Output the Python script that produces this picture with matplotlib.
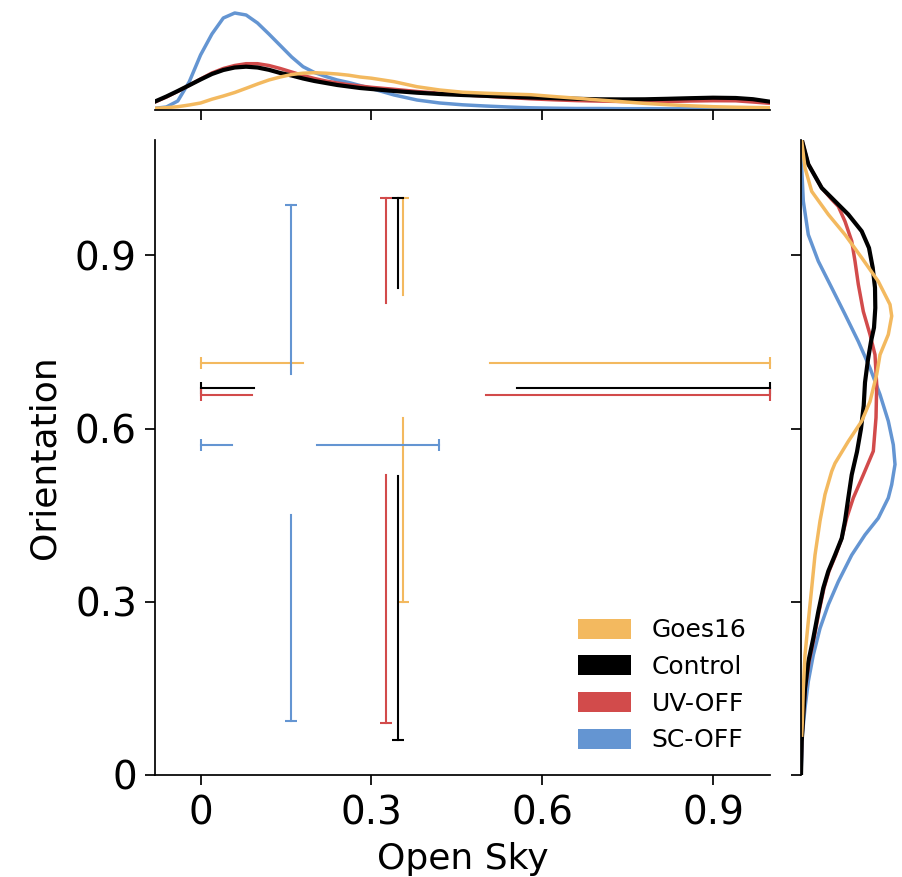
import matplotlib
matplotlib.use("Agg")
import matplotlib.pyplot as plt
from matplotlib.patches import Patch
import numpy as np

groups = ["Goes16", "Control", "UV-OFF", "SC-OFF"]
colors = ["#f3b95f", "#000000", "#d24b4b", "#6495d2"]

# open sky spread per group: min, lower quartile, upper quartile, max
sky_lo = [0.0, 0.0, 0.0, 0.0]
sky_q1 = [0.180, 0.093, 0.091, 0.056]
sky_q3 = [0.508, 0.555, 0.501, 0.204]
sky_hi = [1.0, 1.0, 1.0, 0.419]
sky_mid = [0.355, 0.347, 0.325, 0.159]

# orientation spread per group
ori_lo = [0.300, 0.061, 0.090, 0.094]
ori_q1 = [0.618, 0.518, 0.520, 0.451]
ori_q3 = [0.832, 0.843, 0.817, 0.694]
ori_hi = [1.0, 1.0, 1.0, 0.987]
ori_mid = [0.713, 0.670, 0.658, 0.571]

# marginal density of open sky (scaled units)
sky_grid = [-0.08, -0.06, -0.04, -0.02, 0.0, 0.02, 0.04, 0.06, 0.08, 0.10,
            0.12, 0.14, 0.16, 0.18, 0.20, 0.22, 0.24, 0.26, 0.28, 0.30,
            0.34, 0.38, 0.42, 0.46, 0.50, 0.54, 0.58, 0.62, 0.66, 0.70,
            0.74, 0.78, 0.82, 0.86, 0.90, 0.94, 0.97, 1.0]
sky_dens = {
    "Goes16": [1.7, 2.3, 3.3, 5, 7, 10.8, 14, 17.5, 21.7, 26,
               30, 33, 35.5, 36.8, 37.3, 36.8, 36, 34.8, 33, 31.8,
               28.3, 23.3, 20, 17.8, 16.8, 16, 15.3, 13.5, 11.8, 10,
               8.3, 6.6, 5.3, 4.2, 3.3, 2.8, 2.5, 2.3],
    "Control": [8.5, 13.5, 19, 24.7, 30.5, 36, 40, 42.5, 43.3, 42.5,
                40.2, 37, 34.5, 31.5, 29, 27, 25, 23.5, 22, 21,
                19, 17.3, 16, 15, 14.2, 13.3, 12.5, 11.9, 11.2, 10.7,
                10.6, 10.7, 11.2, 11.8, 12.3, 12, 10.8, 8.3],
    "UV-OFF": [8, 13, 18.7, 24.7, 31, 37, 41.5, 44.5, 46.3, 46.3,
               44.5, 41.5, 38, 34.5, 31.5, 29, 27, 25.3, 24, 22.7,
               20.7, 18.5, 16.8, 15.2, 13.8, 12.5, 11.2, 10.2, 9.4, 8.9,
               8.5, 8.3, 8.5, 9, 9.3, 9.2, 8, 6.7],
    "SC-OFF": [1.7, 3, 9, 28, 55, 76, 92, 97, 95, 87,
               76, 64.5, 53, 43.3, 37.5, 33.5, 30, 27.5, 24.5, 21.5,
               15, 10, 7, 5.2, 4, 3, 2.2, 1.8, 1.5, 1.5,
               1.3, 1.3, 1.2, 1.2, 1.2, 1.1, 1.1, 1.0],
}

# marginal density of orientation (scaled units)
ori_y = {
    "Goes16": [1.098, 1.052, 1.011, 0.971, 0.936, 0.896, 0.855, 0.815, 0.795,
               0.763, 0.728, 0.694, 0.647, 0.613, 0.578, 0.540, 0.526, 0.486,
               0.440, 0.381, 0.324, 0.266, 0.208, 0.150, 0.092, 0.069],
    "Control": [1.101, 1.058, 1.017, 0.994, 0.971, 0.942, 0.913, 0.879, 0.844,
                0.809, 0.775, 0.751, 0.720, 0.680, 0.640, 0.600, 0.560, 0.520,
                0.480, 0.440, 0.410, 0.381, 0.353, 0.324, 0.283, 0.237, 0.196,
                0.150, 0.104, 0.058, 0.0],
    "UV-OFF": [1.101, 1.058, 1.017, 0.997, 0.985, 0.959, 0.925, 0.890, 0.850,
               0.803, 0.763, 0.728, 0.676, 0.619, 0.561, 0.520, 0.480, 0.445,
               0.410, 0.381, 0.353, 0.324, 0.283, 0.237, 0.196, 0.150, 0.104,
               0.058, 0.0],
    "SC-OFF": [1.1, 1.052, 0.994, 0.936, 0.890, 0.844, 0.798, 0.751, 0.705,
               0.659, 0.613, 0.572, 0.538, 0.503, 0.480, 0.445, 0.416, 0.381,
               0.335, 0.295, 0.254, 0.208, 0.162, 0.116, 0.069, 0.035, 0.0],
}
ori_dens = {
    "Goes16": [0.7, 4, 10.7, 27.3, 44, 60.7, 77.3, 89, 90.7,
               87.3, 79, 75.7, 69, 60.7, 47.3, 34, 30.7, 24,
               19, 14, 10.7, 7.3, 4, 2.3, 1.3, 0.7],
    "Control": [0.7, 7.3, 20.7, 34, 47.3, 60.7, 68, 71.7, 74,
                74.3, 73, 70, 67, 64, 62.7, 60, 56, 50.7,
                47.3, 44, 40.7, 34, 27.3, 22.3, 17.3, 12.3, 7.3,
                4, 2.3, 0.7, 0],
    "UV-OFF": [0.7, 7.3, 20.7, 30.7, 37.3, 44, 50.7, 54, 57.3,
               62.3, 69, 74, 75.7, 75, 72.3, 62.3, 52.3, 45.7,
               40.7, 34.7, 28, 23, 18, 13, 8, 4.3, 2.3,
               0.7, 0],
    "SC-OFF": [0.3, 0.7, 2.3, 7.3, 17.3, 30.7, 44, 57.3, 69,
               79, 87.3, 92.3, 94, 90.7, 87.3, 77.3, 64, 50.7,
               37.3, 27.3, 19, 12.3, 7.3, 4, 1.3, 0.7, 0],
}

ticks = [0, 0.3, 0.6, 0.9]
tick_labels = ["0", "0.3", "0.6", "0.9"]

fig = plt.figure(figsize=(9.02, 8.77), dpi=100)
ax = fig.add_axes([0.17184, 0.11631, 0.68182, 0.72406])
ax_top = fig.add_axes([0.17184, 0.87457, 0.68182, 0.11688], sharex=ax)
ax_right = fig.add_axes([0.88803, 0.11631, 0.10976, 0.72406], sharey=ax)

lw = 1.5
for i, g in enumerate(groups):
    c = colors[i]
    # open sky range at the group's orientation centre, gap over the IQR
    ax.plot([sky_lo[i], sky_q1[i]], [ori_mid[i]] * 2, color=c, lw=lw, clip_on=False)
    ax.plot([sky_q3[i], sky_hi[i]], [ori_mid[i]] * 2, color=c, lw=lw, clip_on=False)
    ax.plot([sky_lo[i], sky_hi[i]], [ori_mid[i]] * 2, ls="none", marker="|",
            ms=8, mew=lw, color=c, clip_on=False)
    # orientation range at the group's open sky centre
    ax.plot([sky_mid[i]] * 2, [ori_lo[i], ori_q1[i]], color=c, lw=lw, clip_on=False)
    ax.plot([sky_mid[i]] * 2, [ori_q3[i], ori_hi[i]], color=c, lw=lw, clip_on=False)
    ax.plot([sky_mid[i]] * 2, [ori_lo[i], ori_hi[i]], ls="none", marker="_",
            ms=8, mew=lw, color=c, clip_on=False)

ax.set_xlim(-0.08, 1.0)
ax.set_ylim(0, 1.1)
ax.set_xticks(ticks)
ax.set_xticklabels(tick_labels)
ax.set_yticks(ticks)
ax.set_yticklabels(tick_labels)
ax.tick_params(labelsize=28, length=7, width=1.25)
ax.tick_params(axis="x", pad=7)
ax.tick_params(axis="y", pad=6)
ax.set_xlabel("Open Sky", fontsize=26, labelpad=7)
ax.set_ylabel("Orientation", fontsize=26, labelpad=10)
for s in ["top", "right"]:
    ax.spines[s].set_visible(False)
for s in ["left", "bottom"]:
    ax.spines[s].set_linewidth(1.25)

# marginal curves, orange drawn last
for g in ["SC-OFF", "UV-OFF", "Control", "Goes16"]:
    c = colors[groups.index(g)]
    w = 3 if g == "Control" else 2.5
    ax_top.plot(sky_grid, sky_dens[g], color=c, lw=w,
                solid_joinstyle="round")
    ax_right.plot(ori_dens[g], ori_y[g], color=c, lw=w,
                  solid_joinstyle="round")

ax_top.set_ylim(0, 102.5)
ax_top.tick_params(axis="x", labelbottom=False, length=7, width=1.25)
ax_top.tick_params(axis="y", left=False, labelleft=False)
for s in ["top", "right", "left"]:
    ax_top.spines[s].set_visible(False)
ax_top.spines["bottom"].set_linewidth(1.25)

ax_right.set_xlim(0, 99)
ax_right.tick_params(axis="y", labelleft=False, length=7, width=1.25)
ax_right.tick_params(axis="x", bottom=False, labelbottom=False)
for s in ["top", "right", "bottom"]:
    ax_right.spines[s].set_visible(False)
ax_right.spines["left"].set_linewidth(1.25)

handles = [Patch(facecolor=c, edgecolor="none") for c in colors]
ax.legend(handles, groups, loc="lower right", frameon=False, fontsize=18,
          handlelength=2.12, handleheight=0.85, handletextpad=0.8,
          labelspacing=0.51, bbox_to_anchor=(0.998, 0.0))

fig.savefig("out.png", dpi=100)
